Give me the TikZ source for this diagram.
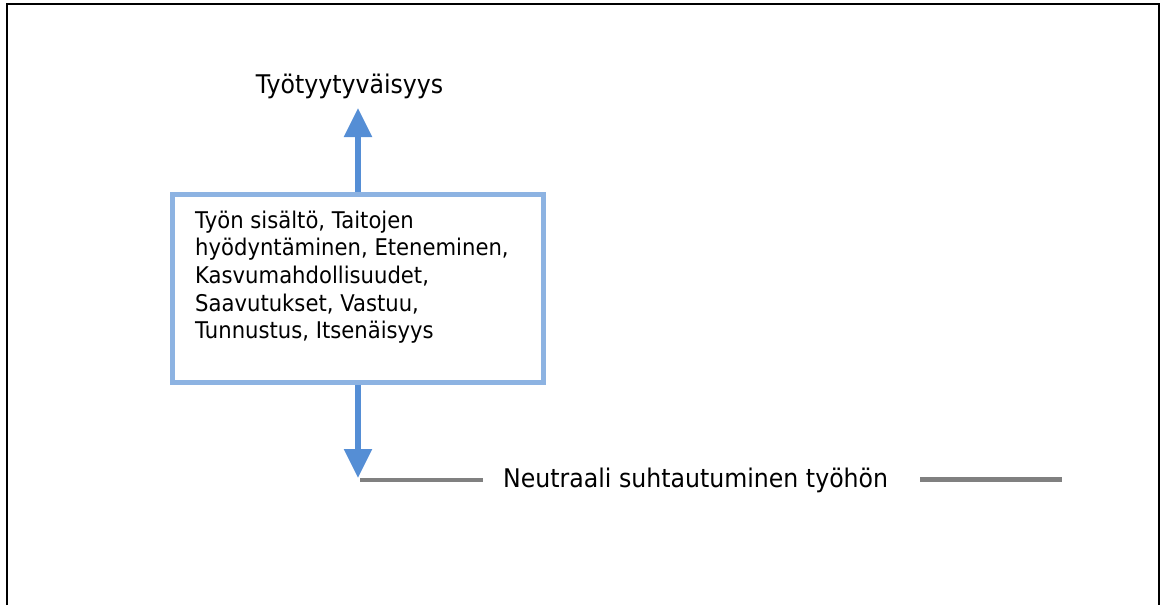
\documentclass[tikz,border=0pt]{standalone}
\usepackage{fontspec}
\setmainfont{DejaVu Sans}[FakeStretch=0.92]
\usetikzlibrary{arrows.meta}

\definecolor{arrowblue}{HTML}{558ED5}
\definecolor{boxblue}{HTML}{8DB3E2}
\definecolor{linegray}{HTML}{808080}

\begin{document}
\begin{tikzpicture}[x=1pt,y=-1pt,
    upshot/.style={draw=arrowblue, line width=5.3pt, -{Triangle[width=27pt,length=29pt]}},
    midline/.style={draw=linegray, line width=4.8pt},
    factorbox/.style={draw=boxblue, line width=5.2pt, minimum width=371pt, minimum height=188pt, inner sep=0pt}]
    \useasboundingbox (0,0) rectangle (1161,605);
    \draw[line width=2.8pt] (7,605) -- (7,4) -- (1159,4) -- (1159,605);

    \node[factorbox] (box) at (358,288.3) {};
    \node[anchor=north west, align=left, inner sep=0pt, font=\fontsize{23}{27.7}\selectfont] (factors) at (195,210.5)
        {Työn sisältö, Taitojen\\hyödyntäminen, Eteneminen,\\Kasvumahdollisuudet,\\Saavutukset, Vastuu,\\Tunnustus, Itsenäisyys};
    \node[anchor=base, inner sep=0pt, font=\fontsize{25.7}{30}\selectfont] (satisfaction) at (349.5,93) {Työtyytyväisyys};
    \node[anchor=base west, inner sep=0pt, font=\fontsize{25.7}{30}\selectfont] (neutral) at (503,487) {Neutraali suhtautuminen työhön};

    \coordinate (uptip) at (358,108);
    \coordinate (downtip) at (358,478);

    \draw[upshot] (box.north) -- (uptip);
    \draw[upshot] (box.south) -- (downtip);
    \draw[midline] (360,480) -- (483,480);
    \draw[midline] (920,479.5) -- (1062,479.5);
\end{tikzpicture}
\end{document}
